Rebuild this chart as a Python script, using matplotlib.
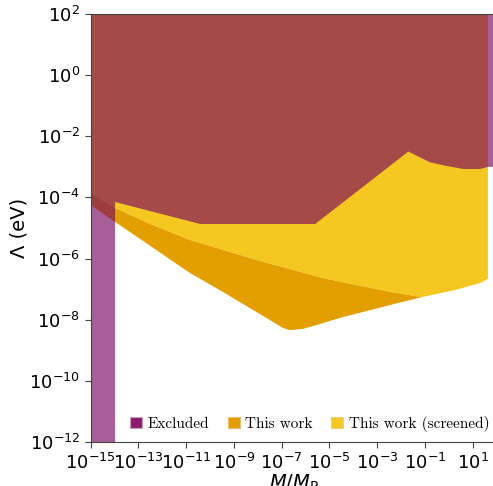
import numpy as np
import matplotlib.pyplot as plt
from matplotlib.patches import Patch
from matplotlib.ticker import NullLocator

# all values as log10 exponents
# upper bound of the allowed window (edge of the excluded region)
excl_logm = [-13.97, -10.4, -5.6, -1.7, -0.8, -0.1, 0.6, 1.3, 1.65]
excl_logl = [-4.15, -4.87, -4.87, -2.5, -2.85, -2.97, -3.07, -3.07, -3.0]

# lower edge of the screened region (also top of "This work")
scr_logm = [-15.0, -13.97, -12.5, -10.84, -8.03, -5.27, -2.47, -1.13, 0.25, 1.3, 1.63]
scr_logl = [-3.86, -4.35, -4.87, -5.39, -6.05, -6.64, -7.09, -7.26, -7.03, -6.8, -6.67]

# lower edge of "This work"
work_logm = [-15.0, -13.97, -10.84, -9.46, -8.33, -7.49, -6.95, -6.65, -6.11, -5.52, -4.56, -2.47, -1.13]
work_logl = [-4.25, -4.8, -6.47, -7.09, -7.62, -8.01, -8.27, -8.34, -8.3, -8.17, -7.94, -7.52, -7.26]

c_excl = '#7a085e'
c_work = '#e39f00'
c_scr = '#f5c721'


def make_grafic():
    fig = plt.figure(figsize=(4.93, 4.86), dpi=100)
    ax = fig.add_axes([0.1836, 0.0905, 0.824, 0.8807])
    ax.set_xscale('log')
    ax.set_yscale('log')

    # screened region: from its lower edge up to the top
    xs = list(scr_logm) + [scr_logm[-1], scr_logm[0]]
    ys = list(scr_logl) + [2, 2]
    ax.fill(10.0**np.array(xs), 10.0**np.array(ys), color=c_scr, lw=0)

    # unscreened region: between the two edges
    xs = list(scr_logm[:8]) + list(work_logm[::-1])
    ys = list(scr_logl[:8]) + list(work_logl[::-1])
    ax.fill(10.0**np.array(xs), 10.0**np.array(ys), color=c_work, lw=0)

    # excluded region: left band, top and right band
    xs = [-15, excl_logm[0]] + list(excl_logm) + [2, 2, -15]
    ys = [-12, -12] + list(excl_logl) + [excl_logl[-1], 2, 2]
    ax.fill(10.0**np.array(xs), 10.0**np.array(ys), color=c_excl, lw=0, alpha=0.65)

    ax.set_xlim(1e-15, 1e2)
    ax.set_ylim(1e-12, 1e2)
    ax.set_xticks([10.0**k for k in range(-15, 2, 2)])
    ax.set_yticks([10.0**k for k in range(-12, 3, 2)])
    ax.xaxis.set_minor_locator(NullLocator())
    ax.yaxis.set_minor_locator(NullLocator())
    ax.tick_params(labelsize=13, length=4, color='#444444')
    for s in ['left', 'bottom', 'top']:
        ax.spines[s].set_color('#444444')
    ax.spines['right'].set_visible(False)

    ax.set_xlabel(r'$M/M_{\rm P}$', fontsize=14, labelpad=0)
    ax.set_ylabel('Λ (eV)', fontsize=14)
    ax.yaxis.set_label_coords(-0.152, 0.5)

    handles = [Patch(facecolor='#8c1e70', edgecolor='#c9a0c0', lw=0.8),
               Patch(facecolor=c_work, edgecolor='#e8c070', lw=0.8),
               Patch(facecolor=c_scr, edgecolor='#e8d080', lw=0.8)]
    names = ['Excluded', 'This work', 'This work (screened)']
    ax.legend(handles, names, loc='lower right', bbox_to_anchor=(1.012, -0.005),
              ncol=3, frameon=False, handlelength=0.8, handleheight=0.8,
              handletextpad=0.35, columnspacing=1.2, borderpad=0.3,
              prop={'family': 'cmr10', 'size': 11})

    fig.savefig('out.png', dpi=100)


if __name__ == '__main__':
    make_grafic()
